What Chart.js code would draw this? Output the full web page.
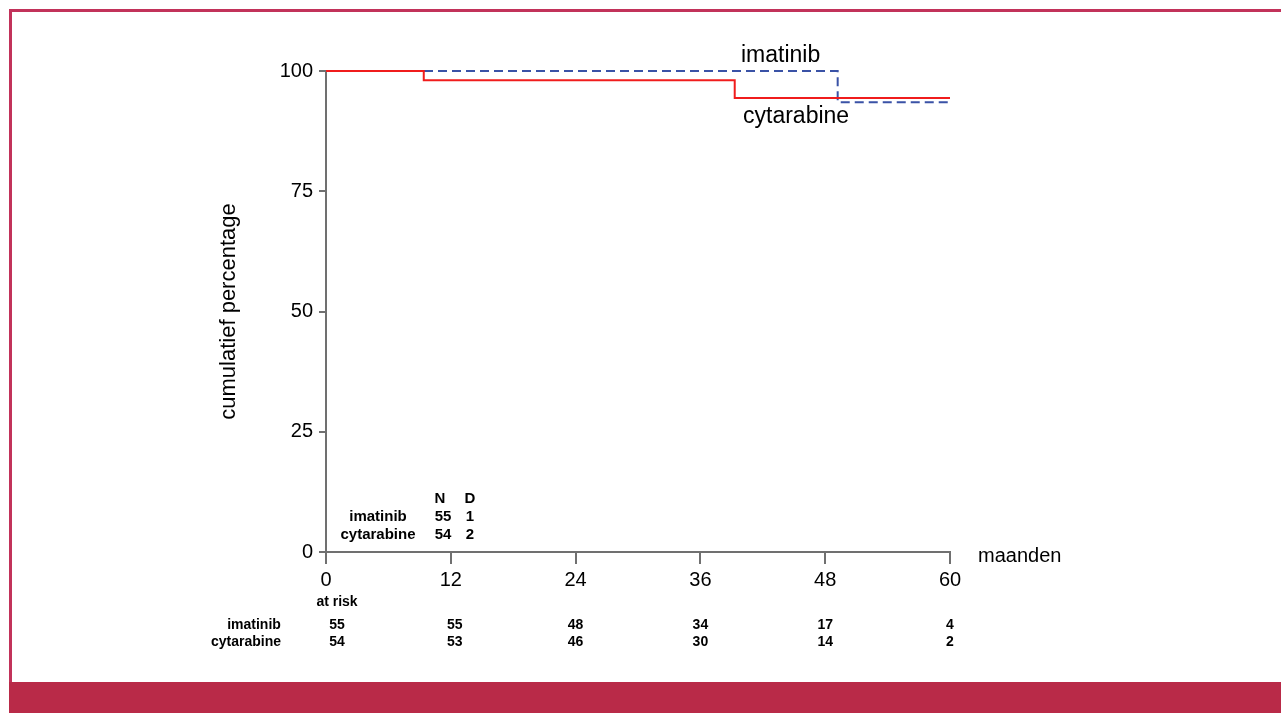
<!DOCTYPE html>
<html>
<head>
<meta charset="utf-8">
<script src="https://cdn.jsdelivr.net/npm/chart.js@4/dist/chart.umd.min.js"></script>
<style>
  html, body { margin: 0; padding: 0; background: #fff; }
  .frame { position: absolute; left: 9px; top: 9px; width: 1272px; height: 673px;
           border-top: 3px solid #c2325a; border-left: 3px solid #c2325a; box-sizing: border-box; }
  .bar { position: absolute; left: 9px; top: 682px; width: 1272px; height: 31px; background: #b92a48; }
  .chart-container { position: absolute; left: 0; top: 0; width: 1281px; height: 713px; }
</style>
</head>
<body>
<div class="frame"></div>
<div class="bar"></div>
<div class="chart-container"><canvas class="chart" width="1281" height="713"></canvas></div>
<script>
// survival curves (month, cumulative %)
var imatinibTimes = [0, 49.2, 60];
var imatinibSurv = [100, 93.5, 93.5];
var cytarabineTimes = [0, 9.4, 39.3, 60];
var cytarabineSurv = [100, 98.1, 94.4, 94.4];

var xTicks = [0, 12, 24, 36, 48, 60];
var yTicks = [0, 25, 50, 75, 100];

// N / D table
var groups = ['imatinib', 'cytarabine'];
var nTotal = [55, 54];
var nDeaths = [1, 2];

// numbers at risk
var atRiskTimes = [0, 12, 24, 36, 48, 60];
var atRiskImatinib = [55, 55, 48, 34, 17, 4];
var atRiskCytarabine = [54, 53, 46, 30, 14, 2];

var axisGrey = '#707070';
var font = '"Liberation Sans", Arial, sans-serif';

function toPoints(times, vals) {
  return times.map((t, i) => ({x: t, y: vals[i]}));
}

// draws the labels and the tables round the plot
var textPlugin = {
  id: 'kmText',
  afterDraw(chart) {
    var ctx = chart.ctx;
    var xs = chart.scales.x;
    ctx.save();
    ctx.fillStyle = '#000';
    ctx.textBaseline = 'middle';

    ctx.font = '23px ' + font;
    ctx.textAlign = 'left';
    ctx.fillText('imatinib', 741, 56);
    ctx.fillText('cytarabine', 743, 117);
    ctx.font = '20px ' + font;
    ctx.fillText('maanden', 978, 556);

    // N / D table
    ctx.font = 'bold 15px ' + font;
    ctx.textAlign = 'center';
    ctx.fillText('N', 440, 499);
    ctx.fillText('D', 470, 499);
    groups.forEach((g, i) => {
      var y = 517 + i * 18;
      ctx.fillText(g, 378, y);
      ctx.fillText(String(nTotal[i]), 443, y);
      ctx.fillText(String(nDeaths[i]), 470, y);
    });

    // at risk table
    ctx.font = 'bold 14px ' + font;
    ctx.fillText('at risk', 337, 602);
    ctx.fillText('imatinib', 254, 625);
    ctx.fillText('cytarabine', 246, 642);
    atRiskTimes.forEach((t, i) => {
      var x = xs.getPixelForValue(t) + (i == 0 ? 11 : (i == 1 ? 4 : 0));
      ctx.fillText(String(atRiskImatinib[i]), x, 625);
      ctx.fillText(String(atRiskCytarabine[i]), x, 642);
    });
    ctx.restore();
  }
};

var config = {
  type: 'line',
  data: {
    datasets: [
      {
        label: 'cytarabine',
        data: toPoints(cytarabineTimes, cytarabineSurv),
        borderColor: '#f01c1c',
        borderWidth: 2,
        stepped: 'before',
        pointRadius: 0,
        clip: false,
      },
      {
        label: 'imatinib',
        data: toPoints(imatinibTimes, imatinibSurv),
        borderColor: '#3a52a6',
        borderWidth: 2,
        borderDash: [9, 5],
        stepped: 'before',
        pointRadius: 0,
        clip: false,
      }
    ]
  },
  options: {
    responsive: false,
    animation: false,
    events: [],
    layout: { padding: { left: 212, right: 331, top: 71, bottom: 121 } },
    plugins: { legend: { display: false }, tooltip: { enabled: false } },
    scales: {
      x: {
        type: 'linear',
        min: 0,
        max: 60,
        afterBuildTicks: s => { s.ticks = xTicks.map(v => ({value: v})); },
        afterFit: s => { s.height = 40; },
        ticks: { color: '#000', font: { family: font, size: 20 }, padding: 4, maxRotation: 0 },
        grid: { drawOnChartArea: false, tickLength: 12, color: axisGrey, lineWidth: 2 },
        border: { color: axisGrey, width: 2 },
      },
      y: {
        type: 'linear',
        min: 0,
        max: 100,
        afterBuildTicks: s => { s.ticks = yTicks.map(v => ({value: v})); },
        afterFit: s => { s.width = 114; },
        ticks: { color: '#000', font: { family: font, size: 20 }, padding: 6 },
        grid: { drawOnChartArea: false, tickLength: 7, color: axisGrey, lineWidth: 2 },
        border: { color: axisGrey, width: 2 },
        title: {
          display: true,
          text: 'cumulatief percentage',
          color: '#000',
          font: { family: font, size: 22 },
          padding: { top: 4, bottom: 4 }
        }
      }
    }
  },
  plugins: [textPlugin]
};

var myChart = new Chart(document.querySelector('.chart'), config);
</script>
</body>
</html>
